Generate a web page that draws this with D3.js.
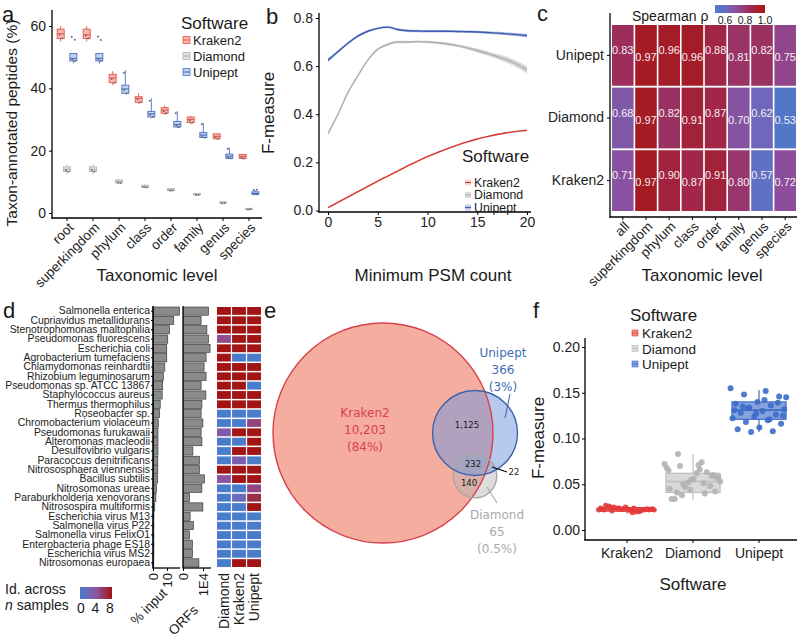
<!DOCTYPE html>
<html><head><meta charset="utf-8">
<script src="https://cdn.jsdelivr.net/npm/d3@7"></script>
<style>body{margin:0;background:#fff}svg{display:block}text{font-family:"Liberation Sans",Arial,sans-serif;fill:#1a1a1a}</style>
</head><body><svg id="fig" width="800" height="637"></svg>
<script>
// ================= DATA =================
const software = ["Kraken2","Diamond","Unipept"];
// Panel a: taxon-annotated peptides (%) box stats [min,q1,median,q3,max]
const taxLevels = ["root","superkingdom","phylum","class","order","family","genus","species"];
const aKraken2 = [[55,56,57.5,59,60],[55,56,57.2,59,60],[41,41.8,43.3,44.5,45.5],[35,35.5,36.8,37.3,38.5],[31.5,32,33,33.8,34.5],[28.5,29,30,30.8,31.2],[23.5,23.8,24.6,25.4,25.6],[17.2,17.5,18.2,18.8,19]];
const aDiamond = [[12.5,13.3,14,14.8,15.5],[12.5,13.3,14,14.8,15.5],[9.3,9.6,10.1,10.6,10.9],[8,8.2,8.6,8.9,9.2],[7,7.2,7.5,7.8,8],[5.6,5.8,6.1,6.3,6.5],[3.1,3.2,3.4,3.6,3.8],[1.1,1.2,1.4,1.5,1.6]];
const aUnipept = [[48,48.8,49.6,51.2,51.2],[48,48.8,49.6,51.2,51.2],[38,38.4,39.8,41,45.8],[30.5,30.8,31.8,32.6,36.8],[27.3,27.6,28.4,29.4,32.7],[24,24.2,25,25.8,28.9],[17.3,17.5,18.2,18.9,21],[5.8,6,6.3,6.8,7.2]];
const aUnipeptOutliers = [[56.5,55.6],[56.6,55.5],[45],[36],[32],[28.5],[20.6],[7.4,7.5]];

// Panel b: F-measure vs minimum PSM count (smoothed fits)
const psmCount = [0,1,2,3,4,5,6,7,8,9,10,11,12,13,14,15,16,17,18,19,20];
const bKraken2 = [0.012,0.034,0.056,0.078,0.100,0.122,0.143,0.164,0.185,0.205,0.224,0.241,0.257,0.272,0.285,0.297,0.307,0.316,0.323,0.329,0.333];
const bDiamond = [0.32,0.40,0.49,0.56,0.625,0.67,0.69,0.70,0.70,0.702,0.70,0.697,0.692,0.685,0.676,0.665,0.653,0.640,0.626,0.607,0.585];
const bUnipept = [0.625,0.66,0.695,0.725,0.745,0.757,0.762,0.752,0.747,0.746,0.745,0.745,0.745,0.744,0.743,0.742,0.740,0.737,0.734,0.731,0.727];
const bSeKraken2 = [0.003,0.003,0.003,0.003,0.003,0.003,0.003,0.003,0.003,0.003,0.003,0.003,0.003,0.003,0.003,0.003,0.003,0.003,0.003,0.003,0.004];
const bSeDiamond = [0.008,0.006,0.005,0.005,0.005,0.005,0.005,0.005,0.005,0.005,0.005,0.005,0.006,0.006,0.007,0.008,0.009,0.010,0.012,0.013,0.015];
const bSeUnipept = [0.008,0.006,0.005,0.005,0.005,0.005,0.005,0.005,0.005,0.005,0.005,0.005,0.005,0.005,0.005,0.005,0.005,0.006,0.006,0.007,0.008];

// Panel c: Spearman rho
const corrLevels = ["all","superkingdom","phylum","class","order","family","genus","species"];
const corrRows = ["Unipept","Diamond","Kraken2"];
const rhoUnipept = [0.83,0.97,0.96,0.96,0.88,0.81,0.82,0.75];
const rhoDiamond = [0.68,0.97,0.82,0.91,0.87,0.70,0.62,0.53];
const rhoKraken2 = [0.71,0.97,0.90,0.87,0.91,0.80,0.57,0.72];

// Panel d: species, % input, ORFs, identification across n samples
const species = ["Salmonella enterica","Cupriavidus metallidurans","Stenotrophomonas maltophilia","Pseudomonas fluorescens","Escherichia coli","Agrobacterium tumefaciens","Chlamydomonas reinhardtii","Rhizobium leguminosarum","Pseudomonas sp. ATCC 13867","Staphylococcus aureus","Thermus thermophilus","Roseobacter sp.","Chromobacterium violaceum","Pseudomonas furukawaii","Alteromonas macleodii","Desulfovibrio vulgaris","Paracoccus denitrificans","Nitrososphaera viennensis","Bacillus subtilis","Nitrosomonas ureae","Paraburkholderia xenovorans","Nitrosospira multiformis","Escherichia virus M13","Salmonella virus P22","Salmonella virus FelixO1","Enterobacteria phage ES18","Escherichia virus MS2","Nitrosomonas europaea"];
const pctInput = [18.6,14.5,11.4,10.2,9.5,9.5,8.1,7.1,6.6,6.2,4.8,4.3,3.4,3.2,3.2,3.2,3.1,3.1,3.0,2.2,1.7,0.9,0.3,0.3,0.3,0.3,0.3,0.2];
const orfs = [12500,8800,11700,12500,13300,11300,10300,11300,8800,11200,9200,8800,9700,8800,9200,4700,8000,8000,10500,9200,3000,9700,3300,5000,3000,4500,4500,7700];
const idDiamond = [8,8,8,4.5,8,8,8,8,8,8,8,0,0,3.5,0,0,0,8,4,0,0,0,0,0,0,0,0,0];
const idKraken2 = [8,8,8,8,8,0,8,8,8,8,8,0,0,8,0,8,3,8,8,0,2,0,0,0,0,0,0,8];
const idUnipept = [8,8,8,8,8,0,8,8,0,8,8,0,5,8,8,8,0,8,8,5,6.5,8,0,0,0,0,0,8];
const idTools = ["Diamond","Kraken2","Unipept"];

// Panel e: Venn counts
const vennOnlyKraken2 = 10203, vennOnlyUnipept = 366, vennOnlyDiamond = 65;
const vennKU = 1125, vennKUD = 232, vennKD = 140, vennUD = 22;
const vennPct = {Kraken2:"84%", Unipept:"3%", Diamond:"0.5%"};

// Panel f: F-measure per software
const fBox = {Kraken2:[0.018,0.0205,0.0226,0.0245,0.027], Diamond:[0.033,0.041,0.053,0.062,0.083], Unipept:[0.107,0.121,0.131,0.140,0.153]};
const fKraken2 = [0.022,0.024,0.021,0.023,0.025,0.022,0.020,0.024,0.023,0.021,0.026,0.022,0.023,0.024,0.020,0.025,0.022,0.023,0.027,0.021,0.024,0.022,0.019,0.025];
const fDiamond = [0.072,0.066,0.083,0.060,0.055,0.045,0.040,0.050,0.058,0.062,0.034,0.048,0.052,0.068,0.074,0.070,0.042,0.056,0.034,0.063,0.047,0.053,0.071,0.041,0.059,0.044,0.065,0.051,0.038,0.057];
const fUnipept = [0.155,0.152,0.148,0.146,0.140,0.138,0.136,0.134,0.132,0.130,0.128,0.126,0.124,0.122,0.120,0.118,0.116,0.112,0.110,0.108,0.107,0.145,0.142,0.135,0.139,0.127,0.131,0.121,0.133,0.125];

// ================= DRAWING =================
const svg = d3.select("#fig");
svg.append("rect").attr("width",800).attr("height",637).attr("fill","#fff");
const stroke = {Kraken2:"#e5534b", Diamond:"#b4b4b4", Unipept:"#4670c4"};
const lightFill = {Kraken2:"#f5b9b2", Diamond:"#e0e0e0", Unipept:"#c3d0ef"};

function T(g, x, y, s, size, opts={}) {
  const t = g.append("text").attr("x",x).attr("y",y).text(s).style("font-size",size+"px");
  if (opts.anchor) t.attr("text-anchor",opts.anchor);
  if (opts.fill) t.style("fill",opts.fill);
  if (opts.rotate!==undefined) t.attr("transform",`rotate(${opts.rotate},${x},${y})`);
  if (opts.family) t.style("font-family",opts.family);
  return t;
}
function line(g,x1,y1,x2,y2,c="#000",w=1.3){return g.append("line").attr("x1",x1).attr("y1",y1).attr("x2",x2).attr("y2",y2).attr("stroke",c).attr("stroke-width",w);}
function styleAxis(g, size){ g.select(".domain").remove(); g.selectAll(".tick line").attr("stroke","#000").attr("stroke-width",1); g.selectAll(".tick text").style("font-size",size+"px").style("fill","#222").style("font-family",'"Liberation Sans",Arial,sans-serif'); }
function legendBoxKey(g,x,y,name){ // boxplot glyph
  g.append("rect").attr("x",x).attr("y",y-3.5).attr("width",7).attr("height",7).attr("fill",lightFill[name]).attr("stroke",stroke[name]).attr("stroke-width",0.8);
  line(g,x,y,x+7,y,stroke[name],1);
}

// panel labels
[["a",2,22],["b",266,24],["c",537,21],["d",3,318],["e",264,318],["f",533,318]].forEach(([l,x,y])=>T(svg,x,y,l,22));

// ---------- Panel a ----------
{
  const g = svg.append("g");
  const x = d3.scaleBand().domain(taxLevels).range([54,262]);
  const y = d3.scaleLinear().domain([0,60]).range([213,26]);
  const dodge = d3.scaleBand().domain(software).range([-9.5,9.5]);
  const data = {Kraken2:aKraken2, Diamond:aDiamond, Unipept:aUnipept};
  const bw = 7;
  software.forEach(s=>{
    data[s].forEach((b,i)=>{
      const cx = x(taxLevels[i]) + x.bandwidth()/2 + dodge(s) + dodge.bandwidth()/2;
      line(g,cx,y(b[0]),cx,y(b[1]),stroke[s],0.9);
      line(g,cx,y(b[3]),cx,y(b[4]),stroke[s],0.9);
      g.append("rect").attr("x",cx-bw/2).attr("y",y(b[3])).attr("width",bw).attr("height",Math.max(1,y(b[1])-y(b[3])))
        .attr("fill",lightFill[s]).attr("stroke",stroke[s]).attr("stroke-width",0.9);
      line(g,cx-bw/2,y(b[2]),cx+bw/2,y(b[2]),stroke[s],1.1);
      g.append("circle").attr("cx",cx-1).attr("cy",y(b[2])+1).attr("r",0.9).attr("fill","#666");
      g.append("circle").attr("cx",cx+1.5).attr("cy",y(b[1])).attr("r",0.9).attr("fill","#666");
    });
  });
  aUnipeptOutliers.forEach((arr,i)=>arr.forEach((v,j)=>{
    const cx = x(taxLevels[i]) + x.bandwidth()/2 + dodge("Unipept") + dodge.bandwidth()/2 + (j%2?1.5:-1.5);
    g.append("circle").attr("cx",cx).attr("cy",y(v)).attr("r",1).attr("fill","#5a6d9a");
  }));
  const ay = g.append("g").attr("transform","translate(52,0)").call(d3.axisLeft(y).tickValues([0,20,40,60]).tickSize(3).tickPadding(3));
  styleAxis(ay,14);
  const ax = g.append("g").attr("transform","translate(0,218)").call(d3.axisBottom(x).tickSize(3).tickFormat(""));
  styleAxis(ax,13);
  taxLevels.forEach(l=>{ const cx=x(l)+x.bandwidth()/2;
    g.append("text").text(l).attr("text-anchor","end").attr("transform",`translate(${cx+4},${225}) rotate(-45)`).attr("dy","0.35em").style("font-size","13.5px").style("fill","#222"); });
  line(g,52,10,52,218.6,"#000",1.3); line(g,51.4,218,262,218,"#000",1.3);
  T(g,17,123,"Taxon-annotated peptides (%)",15.5,{anchor:"middle",rotate:-90});
  T(g,157,281,"Taxonomic level",17,{anchor:"middle"});
  T(g,181,29,"Software",17);
  software.forEach((s,i)=>{ legendBoxKey(g,183,40+i*16,s); T(g,193,45+i*16,s,13); });
}

// ---------- Panel b ----------
{
  const g = svg.append("g");
  const x = d3.scaleLinear().domain([0,20]).range([328,527]);
  const y = d3.scaleLinear().domain([0,0.8]).range([210.5,18]);
  const series = [["Diamond",bDiamond,bSeDiamond,"#b0b0b0","#d2d2d2"],["Unipept",bUnipept,bSeUnipept,"#3a5cb0","#a9b8e0"],["Kraken2",bKraken2,bSeKraken2,"#d93636","#f0b0b0"]];
  series.forEach(([name,vals,se,c,band])=>{
    const area = d3.area().curve(d3.curveMonotoneX).x((d,i)=>x(psmCount[i])).y0((d,i)=>y(vals[i]-se[i])).y1((d,i)=>y(vals[i]+se[i]));
    g.append("path").attr("d",area(vals)).attr("fill",band).attr("opacity",0.9);
    const ln = d3.line().curve(d3.curveMonotoneX).x((d,i)=>x(psmCount[i])).y(d=>y(d));
    g.append("path").attr("d",ln(vals)).attr("fill","none").attr("stroke",c).attr("stroke-width",1.4);
  });
  const ay = g.append("g").attr("transform","translate(319,0)").call(d3.axisLeft(y).tickValues([0,0.2,0.4,0.6,0.8]).tickFormat(d3.format(".1f")).tickSize(3).tickPadding(3));
  styleAxis(ay,14);
  const ax = g.append("g").attr("transform","translate(0,212)").call(d3.axisBottom(x).tickValues([0,5,10,15,20]).tickSize(3).tickPadding(2));
  styleAxis(ax,14);
  line(g,319,13,319,212.6,"#000",1.3); line(g,318.4,212,531,212,"#000",1.3);
  T(g,274,113,"F-measure",17,{anchor:"middle",rotate:-90});
  T(g,433,281,"Minimum PSM count",17,{anchor:"middle"});
  T(g,462,162,"Software",17);
  const lc = {Kraken2:["#d93636","#f3d6d6"],Diamond:["#b0b0b0","#dcdcdc"],Unipept:["#3a5cb0","#c9d2ec"]};
  software.forEach((s,i)=>{ const yy=182.5+i*12.5;
    g.append("rect").attr("x",465).attr("y",yy-3).attr("width",6).attr("height",6).attr("fill",lc[s][1]);
    line(g,465,yy,471,yy,lc[s][0],1.2); T(g,474,yy+4.3,s,12.3); });
}

// ---------- Panel c ----------
{
  const g = svg.append("g");
  const x = d3.scaleBand().domain(corrLevels).range([612,796]).paddingInner(0.07);
  const y = d3.scaleBand().domain(corrRows).range([25,211]).paddingInner(0.03);
  const color = d3.scaleLinear().domain([0.5,0.62,0.72,0.85,1.0]).range(["#4a7ccc","#6f67bb","#8c4e9c","#a0284f","#a61818"]);
  const rows = {Unipept:rhoUnipept, Diamond:rhoDiamond, Kraken2:rhoKraken2};
  corrRows.forEach(r=>rows[r].forEach((v,i)=>{
    g.append("rect").attr("x",x(corrLevels[i])).attr("y",y(r)).attr("width",x.bandwidth()).attr("height",y.bandwidth()).attr("fill",color(v));
    const cy = y(r)+y.bandwidth()/2 + (i%2===0 ? -5 : 2);
    g.append("text").attr("x",x(corrLevels[i])+x.bandwidth()/2).attr("y",cy).attr("dy","0.35em").attr("text-anchor","middle").text(v.toFixed(2)).style("font-size","11px").style("fill","#f4eef4");
  }));
  const ay = g.append("g").attr("transform","translate(610,0)").call(d3.axisLeft(y).tickSize(3).tickPadding(3));
  styleAxis(ay,14);
  const ax = g.append("g").attr("transform","translate(0,217)").call(d3.axisBottom(x).tickSize(3).tickFormat(""));
  styleAxis(ax,13);
  corrLevels.forEach(l=>{ const cx=x(l)+x.bandwidth()/2;
    g.append("text").text(l).attr("text-anchor","end").attr("transform",`translate(${cx+4},${224}) rotate(-45)`).attr("dy","0.35em").style("font-size","13.5px").style("fill","#222"); });
  line(g,610,13,610,217.6,"#000",1.3); line(g,609.4,217,797,217,"#000",1.3);
  T(g,702,281,"Taxonomic level",17,{anchor:"middle"});
  T(g,632,21,"Spearman ρ",14);
  const defs = svg.append("defs");
  const lg = defs.append("linearGradient").attr("id","gradC");
  d3.range(0,1.001,0.1).forEach(t=>lg.append("stop").attr("offset",t).attr("stop-color",color(0.5+t*0.5)));
  g.append("rect").attr("x",715).attr("y",5).attr("width",50).attr("height",8).attr("fill","url(#gradC)");
  const lx = d3.scaleLinear().domain([0.5,1.0]).range([715,765]);
  [0.6,0.8,1.0].forEach(v=>T(g,lx(v),24,v.toFixed(1),10.5,{anchor:"middle"}));
}

// ---------- Panel d ----------
{
  const g = svg.append("g");
  const y = d3.scaleBand().domain(species).range([307,567]).paddingInner(0.12);
  const xp = d3.scaleLinear().domain([0,10]).range([153.5,167.5]);
  const xo = d3.scaleLinear().domain([0,10000]).range([183.5,203.5]);
  species.forEach((s,i)=>{
    g.append("rect").attr("x",xp(0)).attr("y",y(s)).attr("width",xp(pctInput[i])-xp(0)).attr("height",y.bandwidth()).attr("fill","#8a8a8a").attr("stroke","#2a2a2a").attr("stroke-width",0.6);
    g.append("rect").attr("x",xo(0)).attr("y",y(s)).attr("width",xo(orfs[i])-xo(0)).attr("height",y.bandwidth()).attr("fill","#8a8a8a").attr("stroke","#2a2a2a").attr("stroke-width",0.6);
  });
  const hx = d3.scaleBand().domain(idTools).range([217,261]).paddingInner(0.08);
  const hc = d3.scaleLinear().domain([0,4,8]).range(["#4a7ccc","#8b55a3","#a31515"]);
  const idData = {Diamond:idDiamond, Kraken2:idKraken2, Unipept:idUnipept};
  const hy = d3.scaleBand().domain(species).range([307,567]).paddingInner(0.16);
  idTools.forEach(t=>idData[t].forEach((v,i)=>{
    g.append("rect").attr("x",hx(t)).attr("y",hy(species[i])).attr("width",hx.bandwidth()).attr("height",hy.bandwidth()).attr("fill",hc(v));
  }));
  const ay = g.append("g").attr("transform","translate(153,0)").call(d3.axisLeft(y).tickSize(2).tickPadding(1));
  styleAxis(ay,10.4);
  line(g,153,306,153,568,"#000",1.6); line(g,152.2,568,180,568,"#000",1.3);
  line(g,183,306,183,568,"#000",1.3); line(g,182.4,568,211,568,"#000",1.3);
  [0,10].forEach(v=>{ line(g,xp(v),568,xp(v),571,"#000",1); T(g,xp(v)+4.5,573,String(v),13,{anchor:"end",rotate:-90}); });
  [[0,"0"],[10000,"1E4"]].forEach(([v,l])=>{ line(g,xo(v),568,xo(v),571,"#000",1); T(g,xo(v)+4.5,573,l,13,{anchor:"end",rotate:-90}); });
  T(g,168,594,"% input",13.5,{anchor:"end",rotate:-45});
  T(g,199,611,"ORFs",13.5,{anchor:"end",rotate:-45});
  idTools.forEach(t=>T(g,hx(t)+hx.bandwidth()/2+5,573,t,14,{anchor:"end",rotate:-90}));
  T(g,5,594,"Id. across",14);
  const t2 = g.append("text").attr("x",5).attr("y",610).style("font-size","14px");
  t2.append("tspan").text("n").style("font-style","italic"); t2.append("tspan").text(" samples");
  const defs = svg.append("defs");
  const lg = defs.append("linearGradient").attr("id","gradD");
  d3.range(0,1.001,0.125).forEach(t=>lg.append("stop").attr("offset",t).attr("stop-color",hc(t*8)));
  g.append("rect").attr("x",80).attr("y",587).attr("width",32).attr("height",12).attr("fill","url(#gradD)");
  const lx = d3.scaleLinear().domain([0,8]).range([81,110]);
  [0,4,8].forEach(v=>T(g,lx(v),613,String(v),14,{anchor:"middle"}));
}

// ---------- Panel e (Venn) ----------
{
  const g = svg.append("g");
  const totK = vennOnlyKraken2+vennKU+vennKUD+vennKD;
  const totU = vennOnlyUnipept+vennKU+vennKUD+vennUD;
  const totD = vennOnlyDiamond+vennKD+vennKUD+vennUD;
  const r = d3.scaleSqrt().domain([0,totK]).range([0,110]);
  const circles = [
    {name:"Kraken2", cx:383, cy:433, r:r(totK), fill:"#f5ada0", op:1, st:"#d8414d"},
    {name:"Diamond", cx:475, cy:476, r:r(totD), fill:"#b4b4b4", op:0.45, st:"#a8a8a8"},
    {name:"Unipept", cx:475, cy:433, r:r(totU), fill:"#7096dc", op:0.5, st:"#3c64aa"}];
  circles.forEach(c=>g.append("circle").attr("cx",c.cx).attr("cy",c.cy).attr("r",c.r).attr("fill",c.fill).attr("fill-opacity",c.op));
  circles.forEach(c=>g.append("circle").attr("cx",c.cx).attr("cy",c.cy).attr("r",c.r).attr("fill","none").attr("stroke",c.st).attr("stroke-width",1.4));
  const F = '"DejaVu Sans",Verdana,sans-serif';
  const fmt = d3.format(",");
  [["Kraken2",vennOnlyKraken2,365,417,"#d8414d"],["Unipept",vennOnlyUnipept,503,357,"#3f6db5"],["Diamond",vennOnlyDiamond,497,519,"#a9a9a9"]].forEach(([n,v,x,y,c])=>{
    T(g,x,y,n,12,{anchor:"middle",fill:c,family:F});
    T(g,x,y+17,fmt(v),12,{anchor:"middle",fill:c,family:F});
    T(g,x,y+34,`(${vennPct[n]})`,12,{anchor:"middle",fill:c,family:F});
  });
  T(g,467,428,fmt(vennKU),8.5,{anchor:"middle",family:F});
  T(g,473,467,fmt(vennKUD),8.5,{anchor:"middle",family:F});
  T(g,469,486,fmt(vennKD),8.5,{anchor:"middle",family:F});
  T(g,514,475,fmt(vennUD),8.5,{anchor:"middle",family:F});
  line(g,510,394,505,418,"#3f6db5",1.1);
  line(g,497,503,487,487,"#a9a9a9",1.1);
  line(g,492,467,507,472,"#000",1.1);
}

// ---------- Panel f ----------
{
  const g = svg.append("g");
  const x = d3.scaleBand().domain(software).range([594,792]).paddingInner(0.18).paddingOuter(0.09);
  const y = d3.scaleLinear().domain([0,0.2]).range([530,347]);
  const pts = {Kraken2:fKraken2, Diamond:fDiamond, Unipept:fUnipept};
  const boxFill = {Kraken2:"#f08a8a", Diamond:"#d9d9d9", Unipept:"#86a2de"};
  const boxStroke = {Kraken2:"#e03a3a", Diamond:"#bdbdbd", Unipept:"#3d6cc8"};
  const ptCol = {Kraken2:"#e33b3b", Diamond:"#b3b3b3", Unipept:"#3d6cc8"};
  software.forEach(s=>{
    const b = fBox[s], x0 = x(s), w = x.bandwidth(), cx = x0+w/2;
    line(g,cx,y(b[0]),cx,y(b[1]),boxStroke[s],1.2);
    line(g,cx,y(b[3]),cx,y(b[4]),boxStroke[s],1.2);
    g.append("rect").attr("x",x0).attr("y",y(b[3])).attr("width",w).attr("height",y(b[1])-y(b[3])).attr("fill",boxFill[s]).attr("stroke",boxStroke[s]).attr("stroke-width",1.2);
    line(g,x0,y(b[2]),x0+w,y(b[2]),boxStroke[s],1.6);
    pts[s].forEach((v,i)=>{
      const jit = (((i*0.6180339)%1) - 0.5) * w * 1.05;
      g.append("circle").attr("cx",cx+jit).attr("cy",y(v)).attr("r",s==="Kraken2"?2.6:3).attr("fill",ptCol[s]).attr("fill-opacity",0.9);
    });
  });
  const ay = g.append("g").attr("transform","translate(585,0)").call(d3.axisLeft(y).tickValues([0,0.05,0.1,0.15,0.2]).tickFormat(d3.format(".2f")).tickSize(3).tickPadding(2));
  styleAxis(ay,14);
  const ax = g.append("g").attr("transform","translate(0,540)").call(d3.axisBottom(x).tickSize(3).tickPadding(5));
  styleAxis(ax,14);
  line(g,585,338,585,540.6,"#000",1.3); line(g,584.4,540,797,540,"#000",1.3);
  T(g,544,438,"F-measure",17,{anchor:"middle",rotate:-90});
  T(g,693,590,"Software",17,{anchor:"middle"});
  T(g,630,321,"Software",17);
  software.forEach((s,i)=>{ const yy=333+i*15.5;
    g.append("rect").attr("x",632).attr("y",yy-3).attr("width",6).attr("height",6).attr("fill",boxFill[s]).attr("stroke",boxStroke[s]).attr("stroke-width",0.6);
    line(g,632,yy,638,yy,boxStroke[s],0.8);
    T(g,642,yy+5,s,13.5); });
}
</script></body></html>
